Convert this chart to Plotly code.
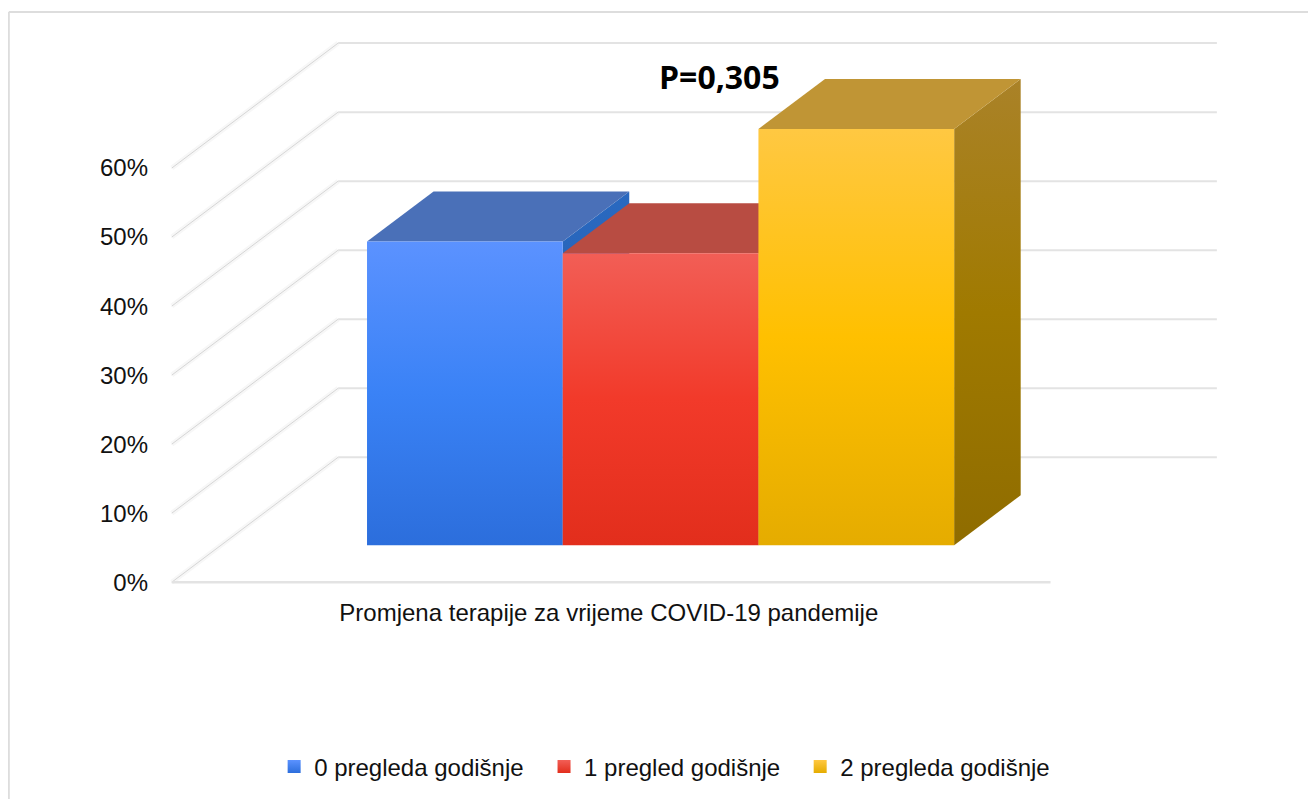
import plotly.graph_objects as go

# data
categories = ["Promjena terapije za vrijeme COVID-19 pandemije"]
series_names = ["0 pregleda godišnje", "1 pregled godišnje", "2 pregleda godišnje"]
series_values = [44.0, 42.3, 60.3]
y_ticks = [0, 10, 20, 30, 40, 50, 60]
p_value_text = "P=0,305"

front_colors = [
    [[0, "#2C6EDC"], [0.5, "#3A82F6"], [1, "#5B92FF"]],
    [[0, "#E22E1C"], [0.5, "#F23A2A"], [1, "#F25E56"]],
    [[0, "#E5AC00"], [0.5, "#FFC000"], [1, "#FFC842"]],
]
side_colors = [
    [[0, "#1F58A8"], [1, "#2A69C0"]],
    [[0, "#A0271A"], [1, "#B84C42"]],
    [[0, "#8F6C00"], [0.5, "#A07A00"], [1, "#AA8228"]],
]
top_colors = ["#4A70B8", "#B84C42", "#C09535"]

FONT = "Liberation Sans"
GRID = "#E3E3E3"

# fake 3D box: one x unit is one bar wide, depth shifts a point up and right
DEPTH_X = 0.85
DEPTH_Y = 18.1
FLOOR_WIDTH = 4.49
BAR_START = 0.746
BAR_NEAR = 0.296
BAR_FAR = 0.696

# one legend per series so the uneven gaps of the picture can be kept
LEGEND_IDS = ["legend", "legend2", "legend3"]
LEGEND_X = [0.1145, 0.3696, 0.6117]


def project(x, y, depth):
    return x + depth * DEPTH_X, y + depth * DEPTH_Y


def add_poly(fig, points, fillcolor=None, gradient=None):
    xs = [p[0] for p in points] + [points[0][0]]
    ys = [p[1] for p in points] + [points[0][1]]
    kwargs = dict(fillgradient=dict(type="vertical", colorscale=gradient)) if gradient else dict(fillcolor=fillcolor)
    fig.add_trace(go.Scatter(x=xs, y=ys, mode="lines", fill="toself", line=dict(width=0),
                             hoverinfo="skip", showlegend=False, **kwargs))


def add_line(fig, start, end, color, width):
    fig.add_trace(go.Scatter(x=[start[0], end[0]], y=[start[1], end[1]], mode="lines",
                             line=dict(color=color, width=width), hoverinfo="skip", showlegend=False))


def add_walls(fig):
    for tick in y_ticks:
        near = project(0, tick, 0)
        far = project(0, tick, 1)
        back_end = project(FLOOR_WIDTH, tick, 1)
        add_line(fig, near, far, "#F7F7F7", 5)
        add_line(fig, near, far, "#D6D6D6", 1)
        add_line(fig, far, back_end, GRID, 2)
    add_line(fig, (0, 0), (FLOOR_WIDTH, 0), GRID, 2.5)


def add_box(fig, index, value):
    left = BAR_START + index
    right = left + 1
    # side first, then the top and front over it
    add_poly(fig, [project(right, 0, BAR_NEAR), project(right, 0, BAR_FAR),
                   project(right, value, BAR_FAR), project(right, value, BAR_NEAR)],
             gradient=side_colors[index])
    add_poly(fig, [project(left, value, BAR_NEAR), project(right, value, BAR_NEAR),
                   project(right, value, BAR_FAR), project(left, value, BAR_FAR)],
             fillcolor=top_colors[index])
    add_poly(fig, [project(left, 0, BAR_NEAR), project(right, 0, BAR_NEAR),
                   project(right, value, BAR_NEAR), project(left, value, BAR_NEAR)],
             gradient=front_colors[index])


def add_legend_entries(fig):
    for index, name in enumerate(series_names):
        fig.add_trace(go.Scatter(
            x=[None], y=[None], mode="markers", name=name, legend=LEGEND_IDS[index],
            marker=dict(symbol="square", size=13, color=front_colors[index][2][1],
                        gradient=dict(type="vertical", color=front_colors[index][0][1])),
        ))


fig = go.Figure()
add_walls(fig)
for bar_index, bar_value in enumerate(series_values):
    add_box(fig, bar_index, bar_value)
add_legend_entries(fig)

# frame lines, only top and left show in the picture
fig.add_shape(type="line", xref="paper", yref="paper", x0=-0.1448, x1=1.12, y0=1.0318, y1=1.0318,
              line=dict(color="#DDDDDD", width=2))
fig.add_shape(type="line", xref="paper", yref="paper", x0=-0.1448, x1=-0.1448, y0=-0.36, y1=1.0318,
              line=dict(color="#DDDDDD", width=2))

fig.add_annotation(x=2.80, y=73.3, text=f"<b>{p_value_text}</b>", showarrow=False,
                   font=dict(family="Open Sans", size=32, color="black"))

fig.update_xaxes(range=[-0.05, 5.356], tickmode="array", tickvals=[FLOOR_WIDTH / 2 - 0.012], ticktext=categories,
                 showgrid=False, zeroline=False, showline=False, ticks="", ticklabelstandoff=0,
                 tickfont=dict(family=FONT, size=24, color="#111111"), fixedrange=True)
fig.update_yaxes(range=[-2, 80], tickmode="array", tickvals=y_ticks, ticktext=[f"{t}%" for t in y_ticks],
                 showgrid=False, zeroline=False, showline=False, ticks="", ticklabelstandoff=13,
                 tickfont=dict(family=FONT, size=24, color="#111111"), fixedrange=True)

legend_style = dict(orientation="h", xanchor="left", yanchor="middle", y=-0.302, indentation=-9,
                    font=dict(family=FONT, size=24, color="#111111"))
fig.update_layout(
    width=1308, height=791,
    margin=dict(l=154, r=96, t=22, b=203, autoexpand=False),
    paper_bgcolor="white", plot_bgcolor="white",
    font=dict(family=FONT, size=24, color="#111111"),
    legend=dict(x=LEGEND_X[0], **legend_style),
    legend2=dict(x=LEGEND_X[1], **legend_style),
    legend3=dict(x=LEGEND_X[2], **legend_style),
)

fig.write_html("out.html")
